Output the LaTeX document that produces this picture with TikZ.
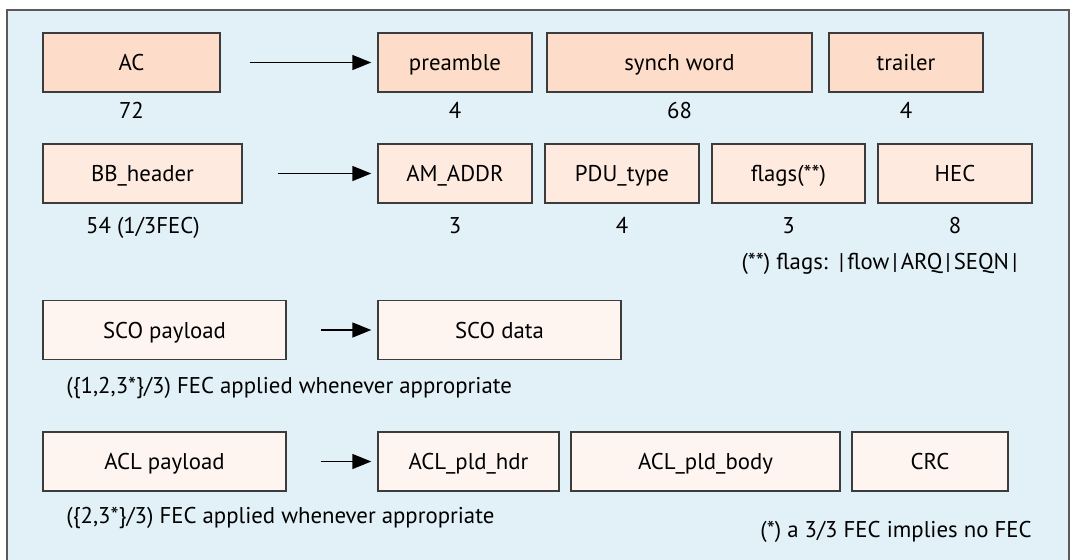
\documentclass[tikz,border=0pt]{standalone}
\usepackage{fontspec}
\setmainfont{PT Sans}
\usepackage{xcolor}
\usetikzlibrary{positioning,arrows.meta}
\definecolor{bgblue}{HTML}{E2F1F8}
\definecolor{fieldA}{HTML}{FDDDCA}
\definecolor{fieldB}{HTML}{FEEADF}
\definecolor{fieldC}{HTML}{FEF5F0}
\definecolor{edgegray}{HTML}{3C3C3C}
\definecolor{framegray}{HTML}{5A5A5A}
\newcommand{\pipe}{\kern1.5pt|\kern1.5pt}

\begin{document}
\begin{tikzpicture}[x=0.5pt, y=-0.5pt,
		field/.style={draw=edgegray, line width=0.7pt, inner sep=0pt, minimum height=29.5pt,
			text height=8pt, text depth=0pt, font=\fontsize{11.4}{13}\selectfont},
		bits/.style={inner sep=0pt, anchor=base, font=\fontsize{11.4}{13}\selectfont},
		arr/.style={-{Triangle[length=9.5pt, width=7.5pt]}, line width=0.7pt}]
			\useasboundingbox (0,0) rectangle (1073,559);
			\draw [framegray, line width=0.7pt, fill=bgblue] (7,10) rectangle (1069,580);
			% access code
			\node[field, fill=fieldA, minimum width=88.5pt] (ac) at (131.5,62.5) {AC};
			\node[field, fill=fieldA, minimum width=77pt] (pre) at (455,62.5) {preamble};
			\node[field, fill=fieldA, minimum width=132.5pt] (sync) at (679.5,62.5) {synch word};
			\node[field, fill=fieldA, minimum width=77pt] (trl) at (906,62.5) {trailer};
			\node[bits] (acbits) at (131.5,118) {72};
			\node[bits] (prebits) at (455,118) {4};
			\node[bits] (syncbits) at (679.5,118) {68};
			\node[bits] (trlbits) at (906,118) {4};
			\draw [arr, shorten <=14.5pt, shorten >=3pt] (ac) -- (pre);
			% header
			\node[field, fill=fieldB, minimum width=99.5pt] (bbh) at (142.5,173.5) {BB\_header};
			\node[field, fill=fieldB, minimum width=77pt] (amaddr) at (455,173.5) {AM\_ADDR};
			\node[field, fill=fieldB, minimum width=77pt] (pdut) at (622,173.5) {PDU\_type};
			\node[field, fill=fieldB, minimum width=76.5pt] (flg) at (788.5,173.5) {flags(**)};
			\node[field, fill=fieldB, minimum width=77pt] (hec) at (955,173.5) {HEC};
			\node[bits] (bbhbits) at (143,233) {54 (1/3FEC)};
			\node[bits] (amaddrbits) at (455,233) {3};
			\node[bits] (pdutbits) at (622,233) {4};
			\node[bits] (flgbits) at (788.5,233) {3};
			\node[bits] (hecbits) at (955,233) {8};
			\node[bits] (flgnote) at (881,269) {(**) flags: \pipe flow\pipe ARQ\pipe SEQN\pipe};
			\draw [arr, shorten <=17.5pt, shorten >=3pt] (bbh) -- (amaddr);
			% sco
			\node[field, fill=fieldC, minimum width=121.5pt] (sco) at (164.5,330) {SCO payload};
			\node[field, fill=fieldC, minimum width=121.5pt] (scod) at (499.5,330) {SCO data};
			\node[bits, anchor=base west] (sconote) at (66,393) {(\{1,2,3*\}/3) FEC applied whenever appropriate};
			\draw [arr, shorten <=17pt, shorten >=3pt] (sco) -- (scod);
			% acl
			\node[field, fill=fieldC, minimum width=121.5pt] (acl) at (164.5,461.5) {ACL payload};
			\node[field, fill=fieldC, minimum width=90.5pt] (aclh) at (468.5,461.5) {ACL\_pld\_hdr};
			\node[field, fill=fieldC, minimum width=134.5pt] (aclb) at (705.5,461.5) {ACL\_pld\_body};
			\node[field, fill=fieldC, minimum width=78pt] (crc) at (930,461.5) {CRC};
			\node[bits, anchor=base west] (aclnote) at (66,523) {(\{2,3*\}/3) FEC applied whenever appropriate};
			\node[bits] (fecnote) at (896,537) {(*) a 3/3 FEC implies no FEC};
			\draw [arr, shorten <=17pt, shorten >=3pt] (acl) -- (aclh);
		\end{tikzpicture}
\end{document}
